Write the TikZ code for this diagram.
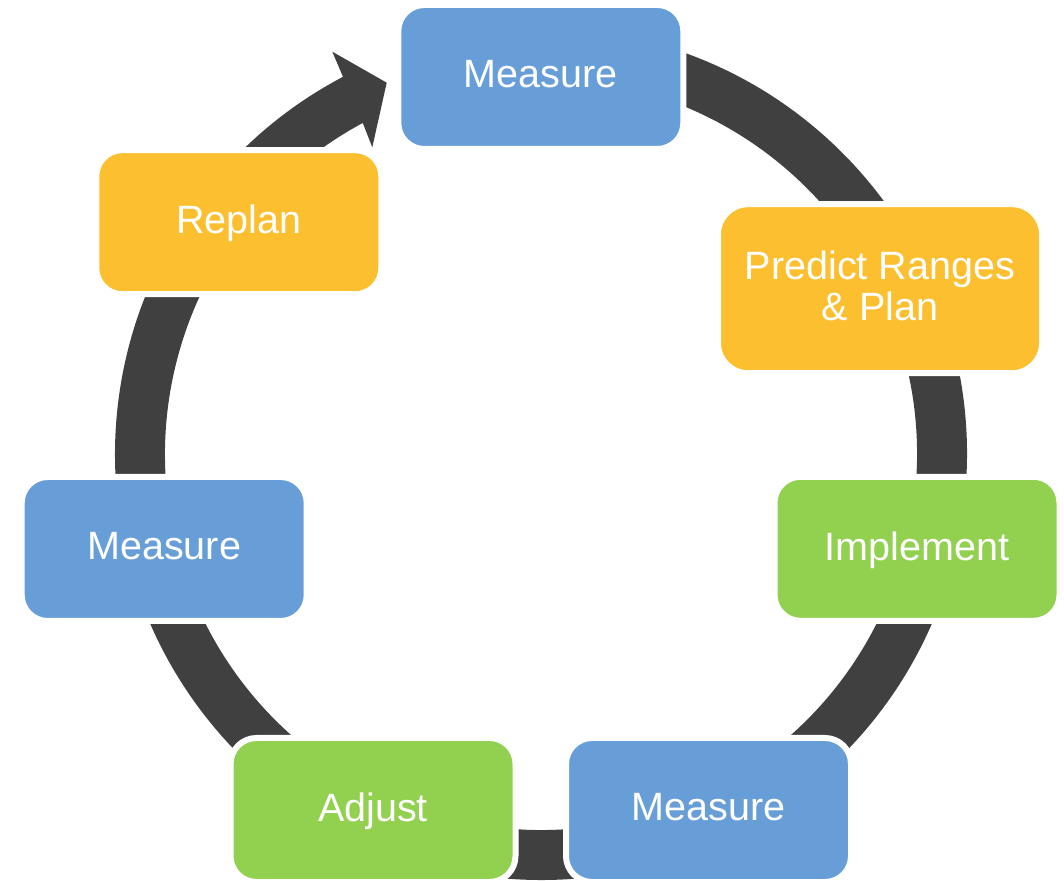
\documentclass[tikz,border=0pt]{standalone}
\usepackage{fontspec}
\setmainfont{Liberation Sans}
\definecolor{ringc}{HTML}{404040}
\definecolor{bluec}{HTML}{689ED7}
\definecolor{goldc}{HTML}{FCBF2F}
\definecolor{greenc}{HTML}{92D050}
\begin{document}
\begin{tikzpicture}[x=1pt,y=1pt,
  box/.style={draw=white, line width=6pt, rounded corners=26pt,
    minimum width=285pt, minimum height=144pt, text=white,
    font=\fontsize{39.5}{41}\selectfont, align=center, inner sep=0pt,
    text depth=6pt},
  bigbox/.style={box, minimum width=324pt, minimum height=169pt, rounded corners=30pt}]
\useasboundingbox (0,0) rectangle (1064,880);
\coordinate (c) at (541,426);
\coordinate (hOut) at (332.3,828.3);
\coordinate (hTip) at (386.7,797.3);
\coordinate (hIn) at (372.3,732.7);
\fill[ringc] ([shift={(85:426)}]c) arc[start angle=85,end angle=-242.3,radius=426]
  -- (hOut) -- (hTip) -- (hIn) -- ([shift={(-241.7:376)}]c)
  arc[start angle=-241.7,end angle=85,radius=376] -- cycle;
\node[box, fill=bluec] (m1) at (540.8,803) {Measure};
\node[bigbox, fill=goldc] (pr) at (880,591.3) {Predict Ranges\\\& Plan};
\node[box, fill=greenc] (im) at (917,331.2) {Implement};
\node[box, fill=bluec] (m2) at (708.5,70) {Measure};
\node[box, fill=greenc] (ad) at (373,70) {Adjust};
\node[box, fill=bluec] (m3) at (164.2,331) {Measure};
\node[box, fill=goldc] (rp) at (238.8,657.8) {Replan};
\end{tikzpicture}
\end{document}
